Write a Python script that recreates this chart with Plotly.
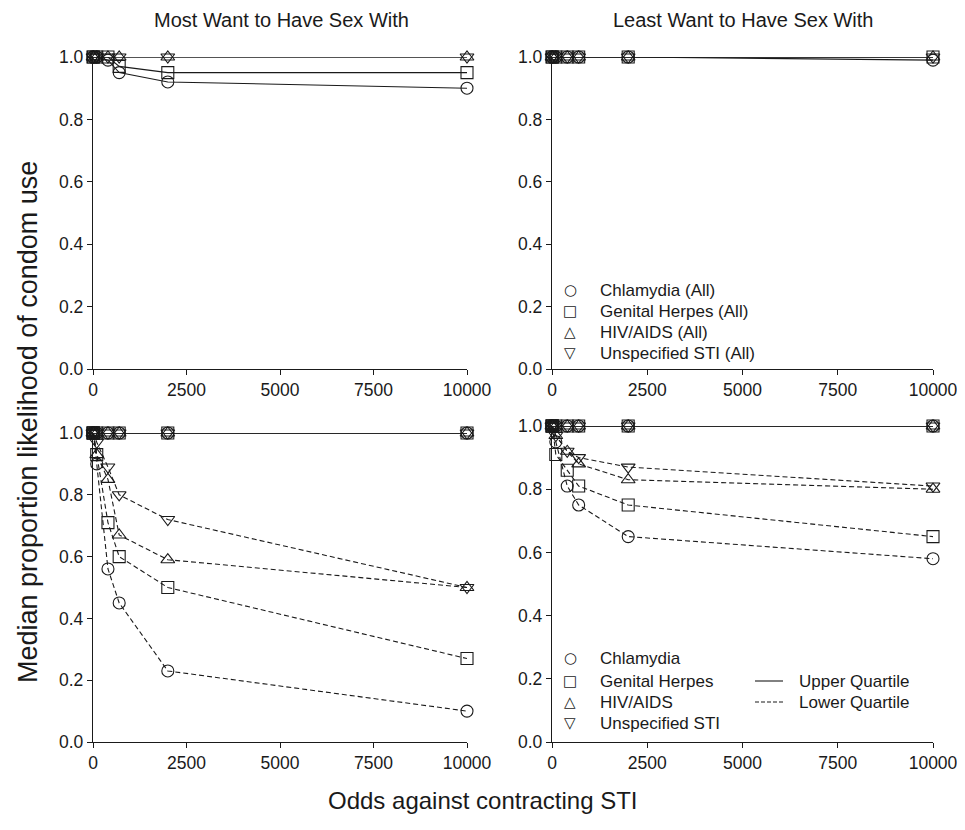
import plotly.graph_objects as go

# ---------------- data ----------------
odds = [1, 10, 100, 400, 700, 2000, 10000]
x_ticks = [0, 2500, 5000, 7500, 10000]
y_ticks = [0.0, 0.2, 0.4, 0.6, 0.8, 1.0]

sti_names = ["Chlamydia", "Genital Herpes", "HIV/AIDS", "Unspecified STI"]
symbols = ["circle-open", "square-open", "triangle-up-open", "triangle-down-open"]
legend_glyphs = ["○", "□", "△", "▽"]

# Top-left: Most Want (All) medians
most_all_chlamydia = [1.0, 1.0, 1.0, 0.99, 0.95, 0.92, 0.90]
most_all_herpes = [1.0, 1.0, 1.0, 1.0, 0.97, 0.95, 0.95]
most_all_hiv = [1.0, 1.0, 1.0, 1.0, 1.0, 1.0, 1.0]
most_all_unspec = [1.0, 1.0, 1.0, 1.0, 1.0, 1.0, 1.0]

# Top-right: Least Want (All) medians
least_all_chlamydia = [1.0, 1.0, 1.0, 1.0, 1.0, 1.0, 0.99]
least_all_herpes = [1.0, 1.0, 1.0, 1.0, 1.0, 1.0, 1.0]
least_all_hiv = [1.0, 1.0, 1.0, 1.0, 1.0, 1.0, 1.0]
least_all_unspec = [1.0, 1.0, 1.0, 1.0, 1.0, 1.0, 1.0]

# Bottom-left: Most Want quartiles
most_upper_chlamydia = [1.0, 1.0, 1.0, 1.0, 1.0, 1.0, 1.0]
most_upper_herpes = [1.0, 1.0, 1.0, 1.0, 1.0, 1.0, 1.0]
most_upper_hiv = [1.0, 1.0, 1.0, 1.0, 1.0, 1.0, 1.0]
most_upper_unspec = [1.0, 1.0, 1.0, 1.0, 1.0, 1.0, 1.0]
most_lower_chlamydia = [1.0, 1.0, 0.90, 0.56, 0.45, 0.23, 0.10]
most_lower_herpes = [1.0, 1.0, 0.93, 0.71, 0.60, 0.50, 0.27]
most_lower_hiv = [1.0, 1.0, 0.93, 0.85, 0.67, 0.59, 0.50]
most_lower_unspec = [1.0, 1.0, 0.97, 0.89, 0.80, 0.72, 0.50]

# Bottom-right: Least Want quartiles
least_upper_chlamydia = [1.0, 1.0, 1.0, 1.0, 1.0, 1.0, 1.0]
least_upper_herpes = [1.0, 1.0, 1.0, 1.0, 1.0, 1.0, 1.0]
least_upper_hiv = [1.0, 1.0, 1.0, 1.0, 1.0, 1.0, 1.0]
least_upper_unspec = [1.0, 1.0, 1.0, 1.0, 1.0, 1.0, 1.0]
least_lower_chlamydia = [1.0, 1.0, 0.95, 0.81, 0.75, 0.65, 0.58]
least_lower_herpes = [1.0, 1.0, 0.91, 0.86, 0.81, 0.75, 0.65]
least_lower_hiv = [1.0, 1.0, 0.97, 0.92, 0.88, 0.83, 0.80]
least_lower_unspec = [1.0, 1.0, 0.97, 0.92, 0.90, 0.87, 0.81]

panel_titles = ["Most Want to Have Sex With", "Least Want to Have Sex With"]
x_title = "Odds against contracting STI"
y_title = "Median proportion likelihood of condom use"
quartile_names = ["Upper Quartile", "Lower Quartile"]

# ---------------- figure ----------------
FONT = "Liberation Sans, Arial, sans-serif"
SYMFONT = "DejaVu Sans, sans-serif"
INK = "#1a1a1a"
DASH = "5px,3px"
W, H = 965, 830
OFF = 8  # page body margin offset
fig = go.Figure()


def fx(px):
    return (px - OFF) / W


def fy(py):
    return 1 - (py - OFF) / H


def add_series(values, sym, xa, ya, dash):
    fig.add_trace(go.Scatter(
        x=odds, y=values, mode="lines+markers",
        line=dict(color=INK, width=1.1, dash=dash),
        marker=dict(symbol=sym, size=12, color=INK, line=dict(width=1.1)),
        xaxis=xa, yaxis=ya, showlegend=False, cliponaxis=False,
        hoverinfo="skip"))


tl = [most_all_chlamydia, most_all_herpes, most_all_hiv, most_all_unspec]
tr = [least_all_chlamydia, least_all_herpes, least_all_hiv, least_all_unspec]
bl_up = [most_upper_chlamydia, most_upper_herpes, most_upper_hiv, most_upper_unspec]
bl_lo = [most_lower_chlamydia, most_lower_herpes, most_lower_hiv, most_lower_unspec]
br_up = [least_upper_chlamydia, least_upper_herpes, least_upper_hiv, least_upper_unspec]
br_lo = [least_lower_chlamydia, least_lower_herpes, least_lower_hiv, least_lower_unspec]

for vals, sym in zip(tl, symbols):
    add_series(vals, sym, "x", "y", "solid")
for vals, sym in zip(tr, symbols):
    add_series(vals, sym, "x2", "y2", "solid")
for vals, sym in zip(bl_lo, symbols):
    add_series(vals, sym, "x3", "y3", DASH)
for vals, sym in zip(bl_up, symbols):
    add_series(vals, sym, "x3", "y3", "solid")
for vals, sym in zip(br_lo, symbols):
    add_series(vals, sym, "x4", "y4", DASH)
for vals, sym in zip(br_up, symbols):
    add_series(vals, sym, "x4", "y4", "solid")

xl = [fx(93), fx(467)]
xr = [fx(552), fx(933)]
yt = [fy(369), fy(57)]
ybl = [fy(742), fy(433)]
ybr = [fy(742), fy(426)]

axis_common = dict(showline=True, linecolor=INK, linewidth=1.4, ticks="outside",
                   ticklen=5, tickwidth=1.4, tickcolor=INK, showgrid=False,
                   zeroline=False, tickfont=dict(family=FONT, size=17.5, color=INK))


def xaxis(domain, anchor):
    return dict(axis_common, domain=domain, anchor=anchor, range=[0, 10000],
                tickvals=x_ticks, ticktext=[str(v) for v in x_ticks])


def yaxis(domain, anchor):
    return dict(axis_common, domain=domain, anchor=anchor, range=[0, 1.0],
                tickvals=y_ticks, ticktext=[f"{v:.1f}" for v in y_ticks])


def px_ann(text, x, y, size, family=FONT, xanchor="center", angle=0):
    return dict(text=text, x=fx(x), y=fy(y), xref="paper", yref="paper",
                xanchor=xanchor, yanchor="middle", showarrow=False, textangle=angle,
                font=dict(family=family, size=size, color=INK))


annotations = [
    px_ann(panel_titles[0], 281, 20, 20),
    px_ann(panel_titles[1], 743, 20, 20),
    px_ann(x_title, 483, 800, 24),
    px_ann(y_title, 28, 422, 27, angle=-90),
]

# legend (top-right panel)
rows_all = [290, 311, 332, 353]
for name, glyph, yy in zip(sti_names, legend_glyphs, rows_all):
    annotations.append(px_ann(glyph, 570, yy, 15, family=SYMFONT))
    annotations.append(px_ann(f"{name} (All)", 598, yy, 17, xanchor="left"))

# legend (bottom-right panel)
rows_q = [658, 681, 702, 723]
for name, glyph, yy in zip(sti_names, legend_glyphs, rows_q):
    annotations.append(px_ann(glyph, 570, yy, 15, family=SYMFONT))
    annotations.append(px_ann(name, 598, yy, 17, xanchor="left"))

shapes = []
for name, dash, yy in zip(quartile_names, ["solid", "4px,2px"], [681, 702]):
    annotations.append(px_ann(name, 797, yy, 17, xanchor="left"))
    shapes.append(dict(type="line", xref="paper", yref="paper",
                       x0=fx(755), x1=fx(783), y0=fy(yy), y1=fy(yy),
                       line=dict(color=INK, width=1.1, dash=dash)))

fig.update_layout(
    width=W, height=H,
    margin=dict(l=0, r=0, t=0, b=0, autoexpand=False),
    paper_bgcolor="white", plot_bgcolor="white",
    showlegend=False,
    xaxis=xaxis(xl, "y"), yaxis=yaxis(yt, "x"),
    xaxis2=xaxis(xr, "y2"), yaxis2=yaxis(yt, "x2"),
    xaxis3=xaxis(xl, "y3"), yaxis3=yaxis(ybl, "x3"),
    xaxis4=xaxis(xr, "y4"), yaxis4=yaxis(ybr, "x4"),
    annotations=annotations,
    shapes=shapes,
)

fig.write_html("out.html")
